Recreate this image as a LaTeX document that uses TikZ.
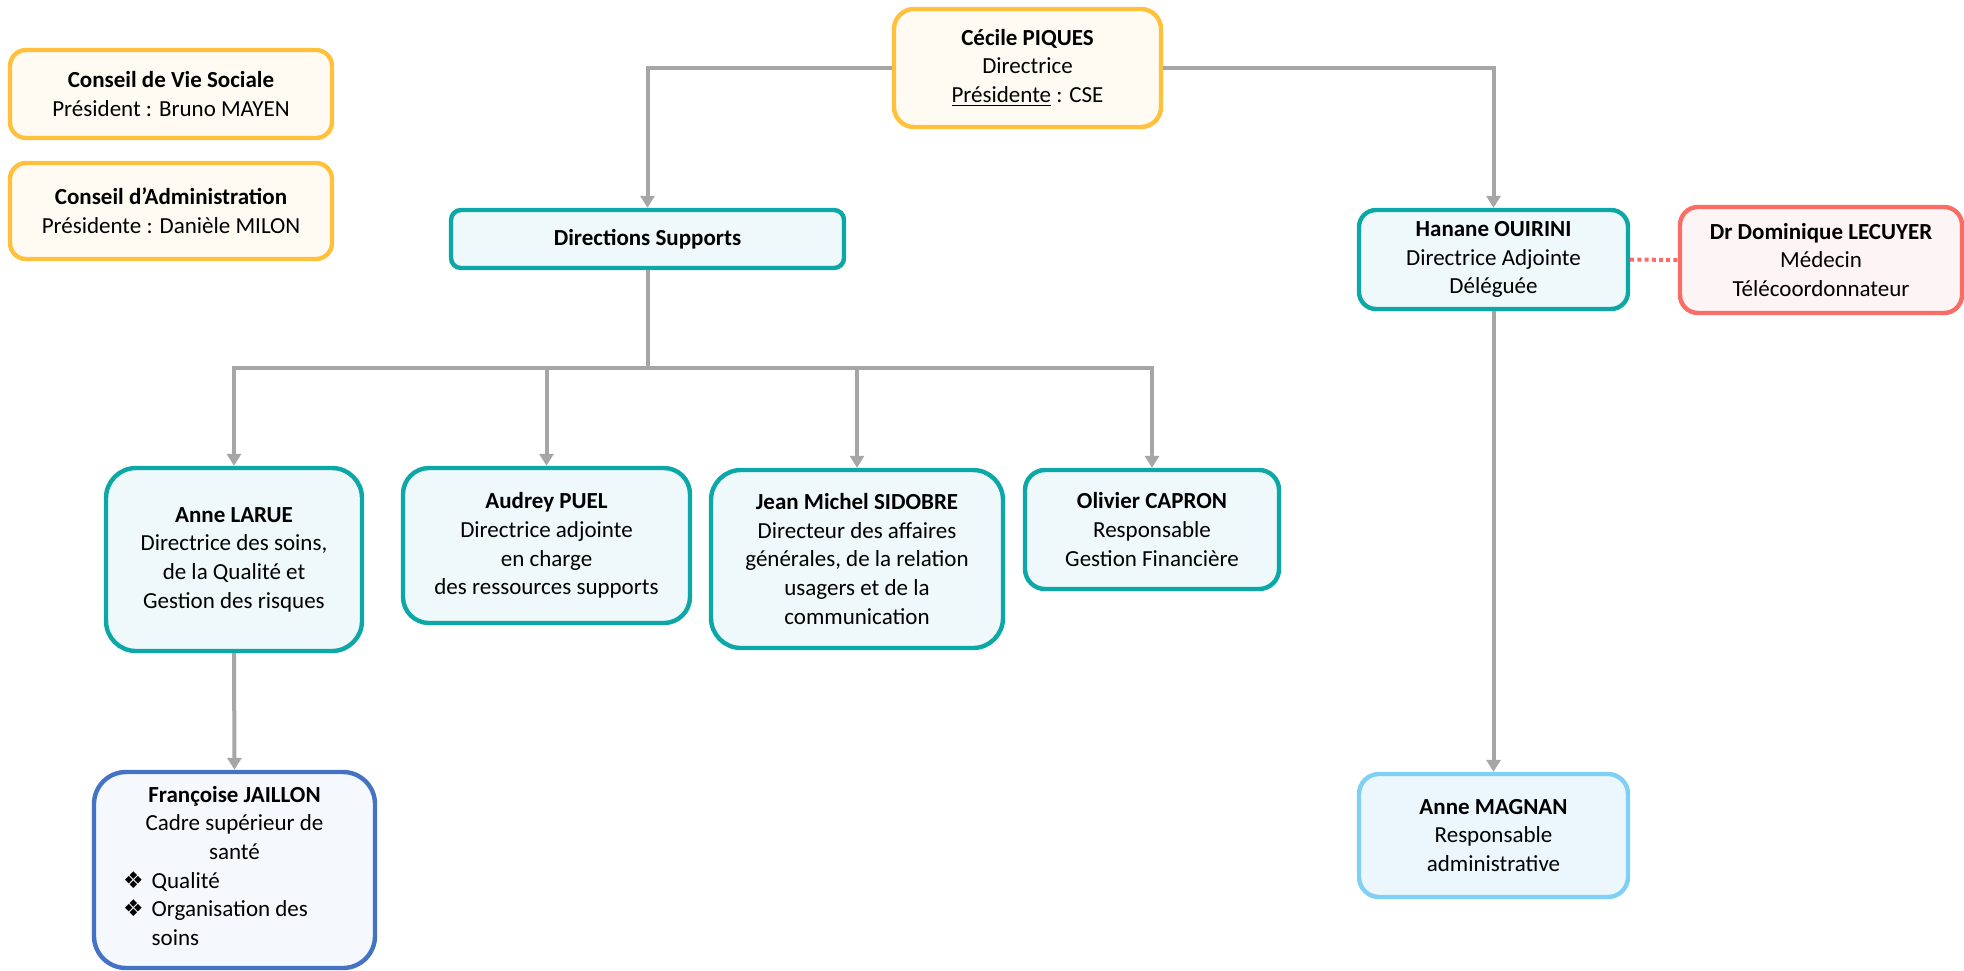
\documentclass[tikz,border=0pt]{standalone}
\usepackage{fontspec}
\setmainfont{Carlito}
\newfontfamily\symfont{DejaVu Sans}
\usetikzlibrary{arrows.meta}
\definecolor{gold}{RGB}{255,192,60}
\definecolor{cream}{RGB}{255,251,242}
\definecolor{teal}{RGB}{12,168,168}
\definecolor{tealfill}{RGB}{239,248,250}
\definecolor{coral}{RGB}{250,108,102}
\definecolor{coralfill}{RGB}{253,245,245}
\definecolor{royal}{RGB}{68,114,196}
\definecolor{royalfill}{RGB}{245,249,254}
\definecolor{sky}{RGB}{128,208,245}
\definecolor{skyfill}{RGB}{235,247,253}
\definecolor{linkgray}{RGB}{166,166,166}
\tikzset{
  orgbox/.style={draw, line width=2.2pt, align=center, inner sep=0pt,
    font=\fontsize{11.5}{14.3}\selectfont},
  goldbox/.style={orgbox, draw=gold, fill=cream},
  tealbox/.style={orgbox, draw=teal, fill=tealfill},
  coralbox/.style={orgbox, draw=coral, fill=coralfill},
  royalbox/.style={orgbox, draw=royal, fill=royalfill},
  skybox/.style={orgbox, draw=sky, fill=skyfill},
  link/.style={draw=linkgray, line width=2pt, -{Triangle[width=7pt,length=6pt]}},
}
\newcommand{\dia}{{\symfont ❖}}

\begin{document}
\begin{tikzpicture}[x=0.5pt,y=-0.5pt]
  \useasboundingbox (0,0) rectangle (1964,970);

  % conseils
  \node[goldbox, minimum width=161pt, minimum height=44pt, rounded corners=8pt] (cvs) at (171,94)
    {\textbf{Conseil de Vie Sociale}\\Président : Bruno MAYEN};
  \node[goldbox, minimum width=161pt, minimum height=48pt, rounded corners=8pt] (ca) at (171,211)
    {\textbf{Conseil d’Administration}\\Présidente : Danièle MILON};

  % direction
  \node[goldbox, minimum width=133.5pt, minimum height=59pt, rounded corners=10pt] (piques) at (1027.5,68)
    {\textbf{Cécile PIQUES}\\Directrice\\\underline{Présidente} : CSE};
  \node[tealbox, minimum width=196.5pt, minimum height=29pt, rounded corners=5pt] (supports) at (647.5,239)
    {\textbf{Directions Supports}};
  \node[tealbox, minimum width=134.5pt, minimum height=49.5pt, rounded corners=8.5pt] (ouirini) at (1493.5,259.5)
    {\textbf{Hanane OUIRINI}\\Directrice Adjointe\\Déléguée};
  \node[coralbox, minimum width=141pt, minimum height=53pt, rounded corners=9pt] (lecuyer) at (1821,260)
    {\textbf{Dr Dominique LECUYER}\\Médecin\\Télécoordonnateur};

  % directions supports
  \node[tealbox, minimum width=128pt, minimum height=91.5pt, rounded corners=15pt] (larue) at (234,559.5)
    {\textbf{Anne LARUE}\\Directrice des soins,\\de la Qualité et\\Gestion des risques};
  \node[tealbox, minimum width=143.5pt, minimum height=77.5pt, rounded corners=13pt] (puel) at (546.5,545.5)
    {\textbf{Audrey PUEL}\\Directrice adjointe\\en charge\\des ressources supports};
  \node[tealbox, minimum width=146pt, minimum height=89pt, rounded corners=15pt] (sidobre) at (857,559)
    {\textbf{Jean Michel SIDOBRE}\\Directeur des affaires\\générales, de la relation\\usagers et de la\\communication};
  \node[tealbox, minimum width=127pt, minimum height=59.5pt, rounded corners=10pt] (capron) at (1152,529.5)
    {\textbf{Olivier CAPRON}\\Responsable\\Gestion Financière};

  % niveau 3
  \node[royalbox, minimum width=140.5pt, minimum height=98pt, rounded corners=16pt] (jaillon) at (234.5,870)
    {\textbf{Françoise JAILLON}\\Cadre supérieur de\\santé\\
     \begin{tabular}[t]{@{}l@{\hspace{4pt}}l@{}}\dia&Qualité\\\dia&Organisation des\\&soins\end{tabular}\hspace*{19pt}};
  \node[skybox, minimum width=134.5pt, minimum height=61.5pt, rounded corners=10pt] (magnan) at (1493.5,835.5)
    {\textbf{Anne MAGNAN}\\Responsable\\administrative};

  % liens
  \coordinate (bus) at (647.5,368);
  \draw[link] (piques.west) -| (supports.north);
  \draw[link] (piques.east) -| (ouirini.north);
  \draw[draw=linkgray, line width=2pt] (supports.south) -- (bus);
  \draw[link] (bus) -| (larue.north);
  \draw[link] (bus) -| (puel.north);
  \draw[link] (bus) -| (sidobre.north);
  \draw[link] (bus) -| (capron.north);
  \draw[link] (larue.south) -- (jaillon.north);
  \draw[link] (ouirini.south) -- (magnan.north);
  \draw[draw=coral, line width=2pt, dash pattern=on 2pt off 1.6pt] (ouirini.east) -- (lecuyer.west);
\end{tikzpicture}
\end{document}
